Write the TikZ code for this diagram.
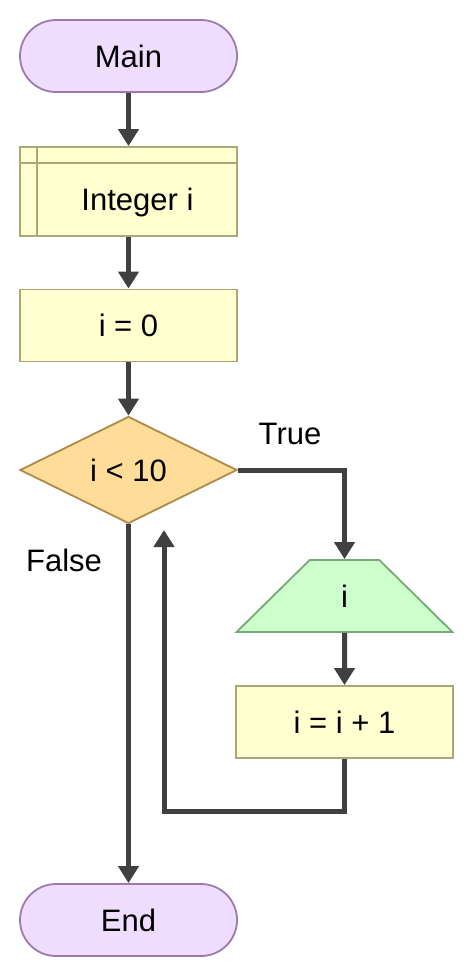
\documentclass[tikz,border=0pt]{standalone}
\usepackage{fontspec}
\setmainfont{Liberation Sans}
\usetikzlibrary{shapes.geometric, arrows.meta}
\definecolor{termfill}{HTML}{EEDDFF}
\definecolor{termline}{HTML}{9A7AB0}
\definecolor{boxfill}{HTML}{FFFFD0}
\definecolor{boxline}{HTML}{A8A878}
\definecolor{condfill}{HTML}{FFDD99}
\definecolor{condline}{HTML}{AE8A48}
\definecolor{outfill}{HTML}{CCFFCC}
\definecolor{outline}{HTML}{78A878}
\definecolor{flow}{HTML}{404040}
\begin{document}
\begin{tikzpicture}[x=1pt, y=-1pt, font=\fontsize{31}{37}\selectfont,
  >={Triangle[length=17pt,width=20pt]},
  terminal/.style={draw=termline, fill=termfill, line width=1.8pt, rounded corners=36pt, minimum width=217pt, minimum height=72pt},
  procbox/.style={draw=boxline, fill=boxfill, line width=1.8pt, minimum width=217pt, minimum height=72pt},
  decision/.style={diamond, draw=condline, fill=condfill, line width=1.8pt, shape aspect=2, inner sep=0pt, minimum width=217pt, minimum height=107pt},
  output/.style={trapezium, trapezium stretches=true, trapezium left angle=64, trapezium right angle=64, draw=outline, fill=outfill, line width=1.8pt, minimum width=216pt, minimum height=72pt},
  flowline/.style={draw=flow, line width=5pt}]
\useasboundingbox (0,0) rectangle (473,977);
\node[terminal] (main) at (128.5,56) {Main};
\node[procbox, minimum height=89pt] (decl) at (128.5,191.5) {};
\draw[boxline, line width=1.8pt] ([yshift=-17pt]decl.north west) -- ([yshift=-17pt]decl.north east);
\draw[boxline, line width=1.8pt] ([xshift=18pt]decl.north west) -- ([xshift=18pt]decl.south west);
\node (decltext) at (137.5,202) {Integer i};
\node[procbox] (init) at (128.5,325.5) {i = 0};
\node[decision] (cond) at (128.5,470) {i < 10};
\node[output] (out) at (344.5,596) {i};
\node[procbox] (inc) at (344.5,722) {i = i + 1};
\node[terminal] (end) at (128.5,920) {End};
\node (truelabel) at (290,434) {True};
\node (falselabel) at (64,560) {False};
\coordinate (loopend) at (164,530);
\draw[flowline, ->] (main) -- (decl);
\draw[flowline, ->] (decl) -- (init);
\draw[flowline, ->] (init) -- (cond);
\draw[flowline, ->] (cond.east) -| (out.north);
\draw[flowline, ->] (out) -- (inc);
\draw[flowline, ->] (inc.south) -- ++(0,53) -| (loopend);
\draw[flowline, ->] (cond.south) -- (end.north);
\end{tikzpicture}
\end{document}
